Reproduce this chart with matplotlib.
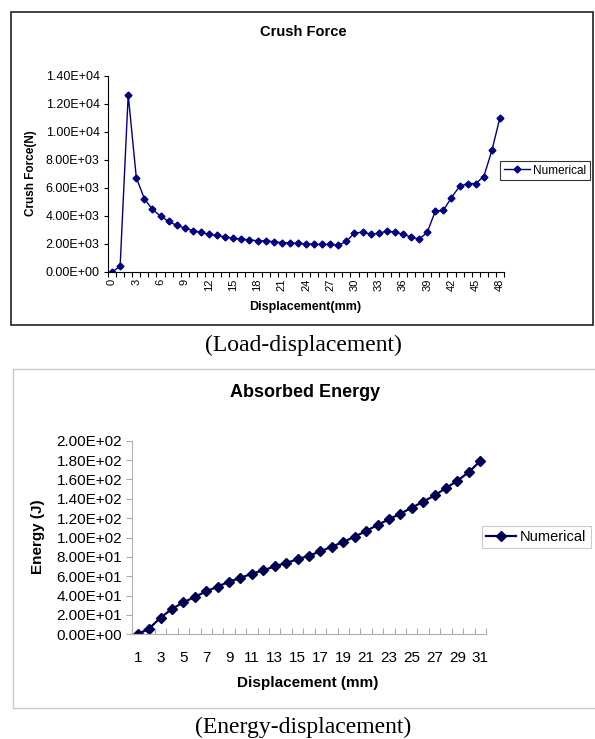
import numpy as np
import matplotlib
matplotlib.use("Agg")
import matplotlib.pyplot as plt
from matplotlib.patches import Rectangle
from matplotlib.ticker import FixedLocator, FuncFormatter

# --- data ---
crush_disp = list(range(0, 49))
crush_force = [
    0, 400, 12650, 6750, 5230, 4470, 3990, 3610, 3330, 3140,
    2950, 2830, 2690, 2610, 2500, 2420, 2350, 2300, 2230, 2230,
    2160, 2100, 2090, 2040, 2020, 1970, 1970, 1970, 1900, 2190,
    2780, 2850, 2710, 2760, 2920, 2850, 2690, 2500, 2350, 2830,
    4350, 4400, 5320, 6110, 6320, 6320, 6820, 8680, 11030,
]
crush_yticks = [0, 2000, 4000, 6000, 8000, 10000, 12000, 14000]

energy_disp = list(range(1, 32))
energy = [
    0, 5.9, 17.2, 26.2, 33.0, 38.6, 44.4, 49.2, 54.4, 58.2,
    62.7, 66.1, 70.2, 73.7, 77.5, 81.2, 85.7, 90.5, 95.4, 100.9,
    106.7, 112.9, 118.8, 124.6, 130.8, 137.0, 143.5, 151.1, 158.7, 167.6,
    179.0,
]
energy_yticks = [0, 20, 40, 60, 80, 100, 120, 140, 160, 180, 200]

W, H = 595, 739
plt.rcParams["font.family"] = ["Liberation Sans", "DejaVu Sans"]
serif = ["Liberation Serif", "DejaVu Serif"]
fig = plt.figure(figsize=(W / 100, H / 100), dpi=100)


def fx(px):
    return px / W


def fy(py):
    return 1 - py / H


def sci(v, _):
    return f"{v:.2E}"


# frames around each chart
fig.patches.append(Rectangle((fx(11), fy(325)), fx(582), 313 / H, transform=fig.transFigure,
                             fill=False, edgecolor="#222222", linewidth=1.2))
fig.patches.append(Rectangle((fx(13), fy(708)), fx(590), 339 / H, transform=fig.transFigure,
                             fill=False, edgecolor="#c8c8c8", linewidth=1.0))

# ---------- top: crush force ----------
ax1 = fig.add_axes([fx(108), fy(272), fx(504 - 108), (272 - 76) / H])
ax1.plot(crush_disp, crush_force, color="#000080", linewidth=1.0,
         marker="D", markersize=3.5, label="Numerical")
ax1.set_xlim(-0.5, len(crush_disp) - 0.5)
ax1.set_ylim(0, 14000)
ax1.set_yticks(crush_yticks)
ax1.yaxis.set_major_formatter(FuncFormatter(sci))
ax1.set_xticks(crush_disp[::3])
ax1.set_xticklabels([str(v) for v in crush_disp[::3]], rotation=90)
ax1.xaxis.set_minor_locator(FixedLocator(np.arange(-0.5, len(crush_disp), 1)))
ax1.tick_params(axis="x", which="major", length=0, labelsize=8, pad=5)
ax1.tick_params(axis="x", which="minor", length=3.5, width=0.8, direction="out")
ax1.tick_params(axis="y", labelsize=9, length=3, width=0.8, pad=3)
for s in ["top", "right"]:
    ax1.spines[s].set_visible(False)
fig.text(fx(303), fy(32), "Crush Force", fontsize=10.5, fontweight="bold",
         ha="center", va="center")
fig.text(fx(31), fy(173), "Crush Force(N)", fontsize=8.5, fontweight="bold",
         rotation=90, ha="center", va="center")
fig.text(fx(305), fy(307), "Displacement(mm)", fontsize=9, fontweight="bold",
         ha="center", va="center")
leg1 = ax1.legend(loc="center left", bbox_to_anchor=(fx(500), fy(170.5)),
                  bbox_transform=fig.transFigure, fontsize=8.5, frameon=True,
                  fancybox=False, edgecolor="black", borderpad=0.3,
                  handlelength=2.2, handletextpad=0.3, borderaxespad=0)
leg1.get_frame().set_linewidth(0.8)

fig.text(fx(303), fy(345), "(Load-displacement)", fontsize=17,
         family=serif, ha="center", va="center")

# ---------- bottom: absorbed energy ----------
ax2 = fig.add_axes([fx(132), fy(634.3), fx(486 - 132), (634.3 - 440.7) / H])
ax2.plot(energy_disp, energy, color="#000050", linewidth=1.6,
         marker="D", markersize=5, label="Numerical")
ax2.set_xlim(0.5, len(energy_disp) + 0.5)
ax2.set_ylim(0, 200)
ax2.set_yticks(energy_yticks)
ax2.yaxis.set_major_formatter(FuncFormatter(sci))
ax2.set_xticks(energy_disp[::2])
ax2.xaxis.set_minor_locator(FixedLocator(np.arange(0.5, len(energy_disp) + 1, 1)))
ax2.tick_params(axis="x", which="major", length=0, labelsize=11, pad=12)
ax2.tick_params(axis="x", which="minor", length=4, width=0.8, direction="in",
                color="#aaaaaa")
ax2.tick_params(axis="y", labelsize=11, length=4, width=0.8, pad=3, color="#aaaaaa")
for s in ["top", "right"]:
    ax2.spines[s].set_visible(False)
for s in ["left", "bottom"]:
    ax2.spines[s].set_color("#b0b0b0")
fig.text(fx(38), fy(537), "Energy (J)", fontsize=11, fontweight="bold",
         rotation=90, ha="center", va="center")
fig.text(fx(305), fy(392), "Absorbed Energy", fontsize=13, fontweight="bold",
         ha="center", va="center")
fig.text(fx(308), fy(683), "Displacement (mm)", fontsize=11, fontweight="bold",
         ha="center", va="center")
leg2 = ax2.legend(loc="center left", bbox_to_anchor=(fx(482), fy(537)),
                  bbox_transform=fig.transFigure, fontsize=10.5, frameon=True,
                  fancybox=False, edgecolor="#c0c0c0", borderpad=0.3,
                  handlelength=2.0, handletextpad=0.3, borderaxespad=0)
leg2.get_frame().set_linewidth(0.8)

fig.text(fx(303), fy(727), "(Energy-displacement)", fontsize=17,
         family=serif, ha="center", va="center")

fig.savefig("out.png", dpi=100)
